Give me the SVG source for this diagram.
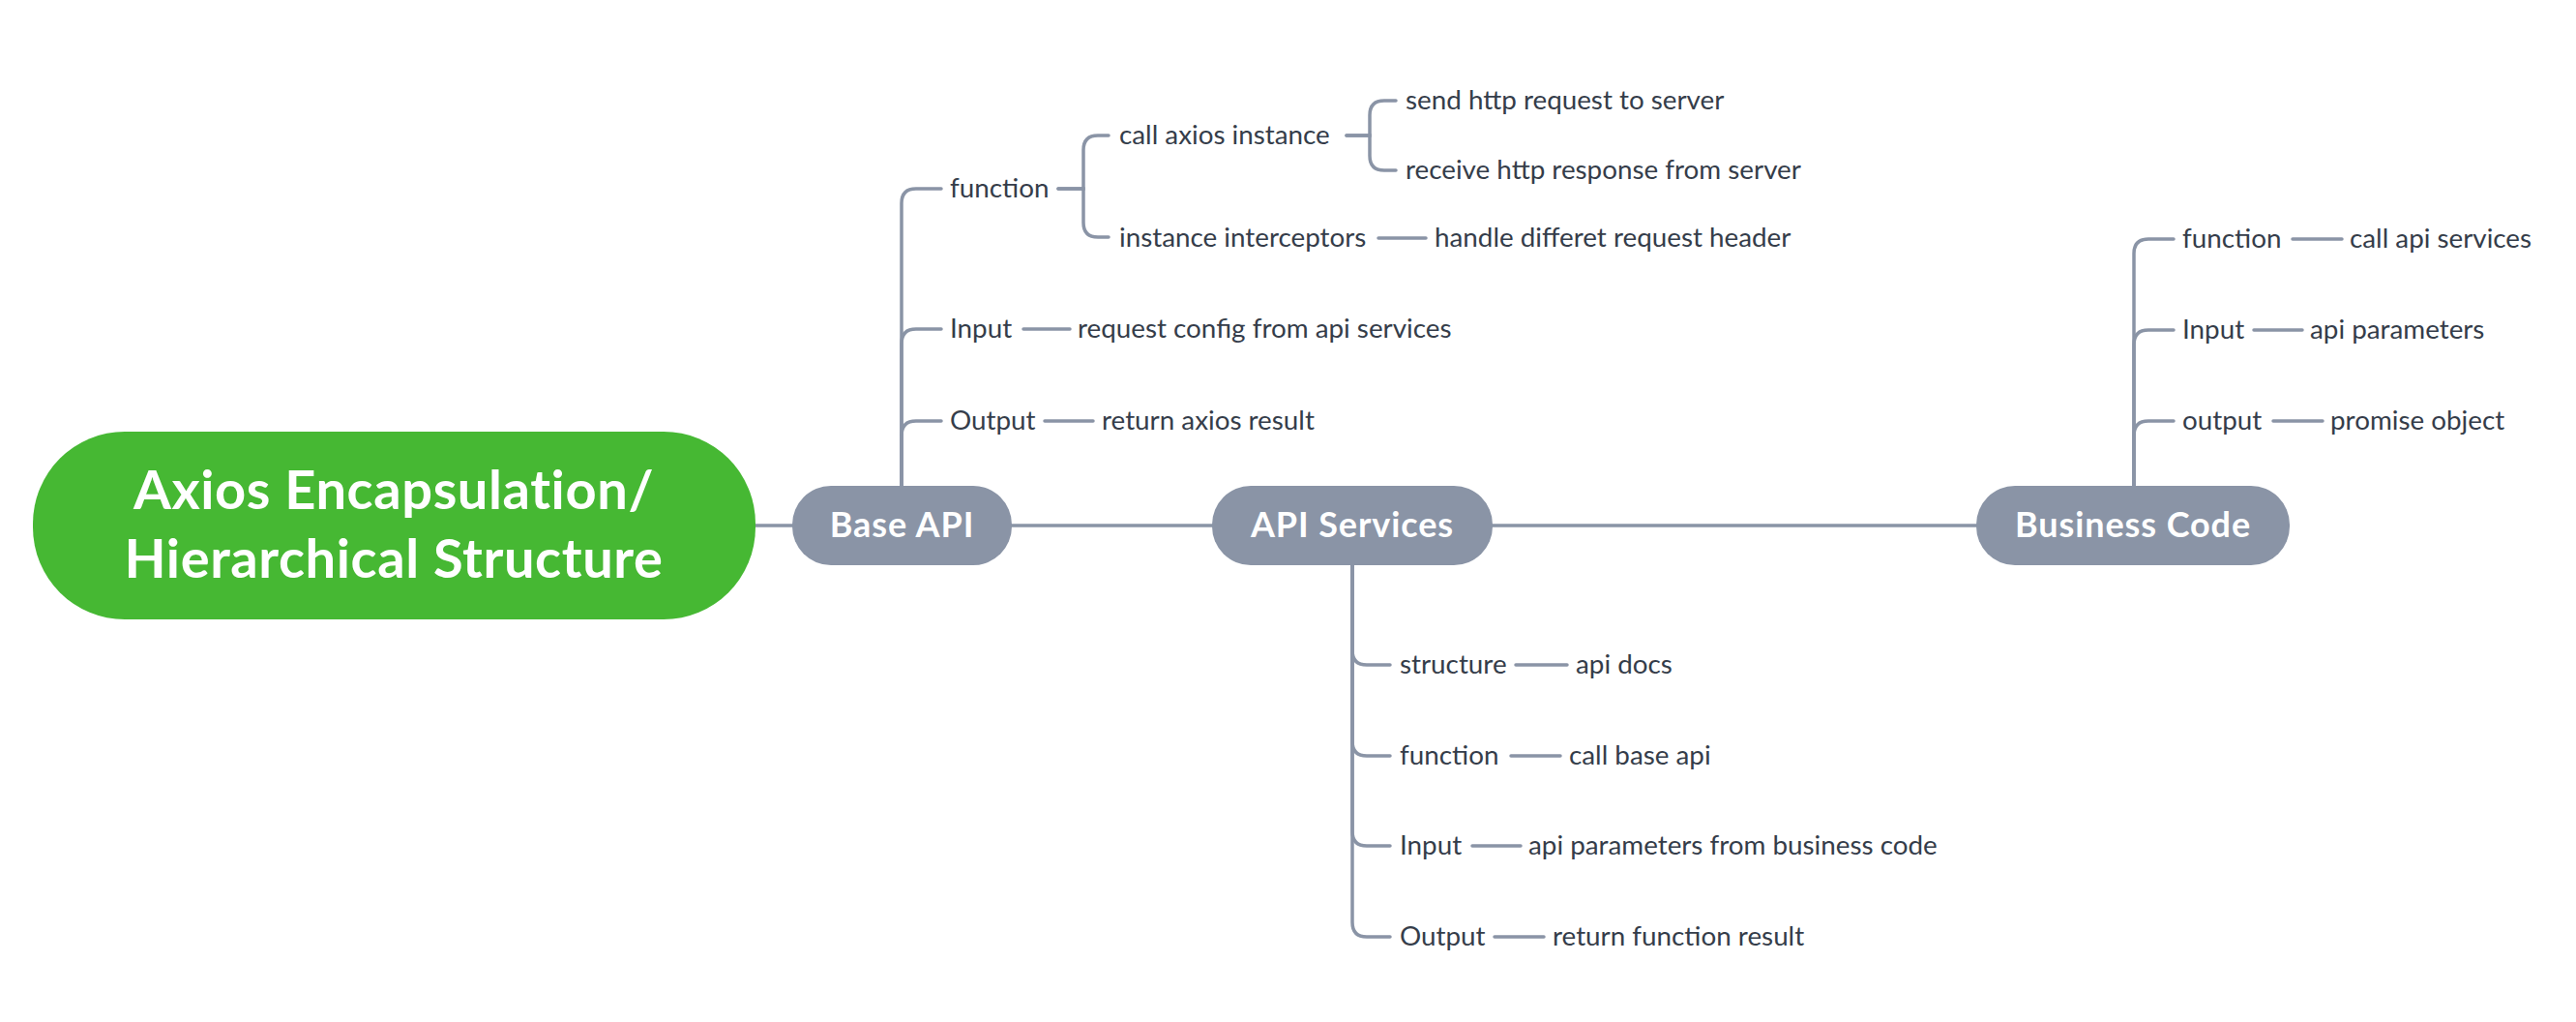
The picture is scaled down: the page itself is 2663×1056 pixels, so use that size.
<svg xmlns="http://www.w3.org/2000/svg" width="2663" height="1056" viewBox="0 0 2663 1056">
<style>
.bg{fill:#ffffff}
.ln{fill:none;stroke:#8a94a6;stroke-width:3.5;stroke-linecap:round}
.topic{fill:#8a94a6}
.root{fill:#46b833}
.tt{font-family:Lato,"Noto Sans",sans-serif;font-weight:700;fill:#ffffff;text-anchor:middle}
.nt{font-size:36px;letter-spacing:0.9px}
.rt{font-size:56px;letter-spacing:0.6px}
.lb{font-family:Lato,"Noto Sans",sans-serif;font-size:27.8px;fill:#353d4a}
</style>
<rect class="bg" x="0" y="0" width="2663" height="1056"/>
<g id="connectors">
<path class="ln" d="M781 543 H2043"/>
<path class="ln" d="M932 502 V210 Q932 195 947 195 H973"/>
<path class="ln" d="M932 502 V355 Q932 340 947 340 H973"/>
<path class="ln" d="M932 502 V450 Q932 435 947 435 H973"/>
<path class="ln" d="M1094 195 H1120 V155 Q1120 140 1135 140 H1146"/>
<path class="ln" d="M1094 195 H1120 V230 Q1120 245 1135 245 H1146"/>
<path class="ln" d="M1392 140 H1416 V119 Q1416 104 1431 104 H1443"/>
<path class="ln" d="M1392 140 H1416 V161 Q1416 176 1431 176 H1443"/>
<path class="ln" d="M1425 246 H1474"/>
<path class="ln" d="M1058 340 H1106"/>
<path class="ln" d="M1080 435 H1130"/>
<path class="ln" d="M1398 584 V672 Q1398 687 1413 687 H1437"/>
<path class="ln" d="M1398 584 V766 Q1398 781 1413 781 H1437"/>
<path class="ln" d="M1398 584 V859 Q1398 874 1413 874 H1437"/>
<path class="ln" d="M1398 584 V953 Q1398 968 1413 968 H1437"/>
<path class="ln" d="M1567 687 H1620"/>
<path class="ln" d="M1562 781 H1613"/>
<path class="ln" d="M1522 874 H1572"/>
<path class="ln" d="M1545 968 H1596"/>
<path class="ln" d="M2206 502 V262 Q2206 247 2221 247 H2247"/>
<path class="ln" d="M2206 502 V356 Q2206 341 2221 341 H2247"/>
<path class="ln" d="M2206 502 V450 Q2206 435 2221 435 H2247"/>
<path class="ln" d="M2370 247 H2421"/>
<path class="ln" d="M2330 341 H2380"/>
<path class="ln" d="M2350 435 H2401"/>
</g>
<g id="root">
<rect class="root" x="34" y="446" width="747" height="194" rx="95"/>
<text class="tt rt" x="407" y="526">Axios Encapsulation/</text>
<text class="tt rt" x="407" y="597">Hierarchical Structure</text>
</g>
<g id="base-api">
<rect class="topic" x="819" y="502" width="227" height="82" rx="40"/>
<text class="tt nt" x="932.5" y="555">Base API</text>
</g>
<g id="api-services">
<rect class="topic" x="1253" y="502" width="290" height="82" rx="40"/>
<text class="tt nt" x="1398" y="555">API Services</text>
</g>
<g id="business-code">
<rect class="topic" x="2043" y="502" width="324" height="82" rx="40"/>
<text class="tt nt" x="2205" y="555">Business Code</text>
</g>
<g id="base-api-children">
<text class="lb" x="982" y="204">function</text>
<text class="lb" x="982" y="349">Input</text>
<text class="lb" x="982" y="444">Output</text>
<text class="lb" x="1157" y="149">call axios instance</text>
<text class="lb" x="1157" y="255">instance interceptors</text>
<text class="lb" x="1453" y="113">send http request to server</text>
<text class="lb" x="1453" y="185">receive http response from server</text>
<text class="lb" x="1483" y="255">handle differet request header</text>
<text class="lb" x="1114" y="349">request config from api services</text>
<text class="lb" x="1139" y="444">return axios result</text>
</g>
<g id="api-services-children">
<text class="lb" x="1447" y="696">structure</text>
<text class="lb" x="1447" y="790">function</text>
<text class="lb" x="1447" y="883">Input</text>
<text class="lb" x="1447" y="977">Output</text>
<text class="lb" x="1629" y="696">api docs</text>
<text class="lb" x="1622" y="790">call base api</text>
<text class="lb" x="1580" y="883">api parameters from business code</text>
<text class="lb" x="1605" y="977">return function result</text>
</g>
<g id="business-code-children">
<text class="lb" x="2256" y="256">function</text>
<text class="lb" x="2256" y="350">Input</text>
<text class="lb" x="2256" y="444">output</text>
<text class="lb" x="2429" y="256">call api services</text>
<text class="lb" x="2388" y="350">api parameters</text>
<text class="lb" x="2409" y="444">promise object</text>
</g>
</svg>
